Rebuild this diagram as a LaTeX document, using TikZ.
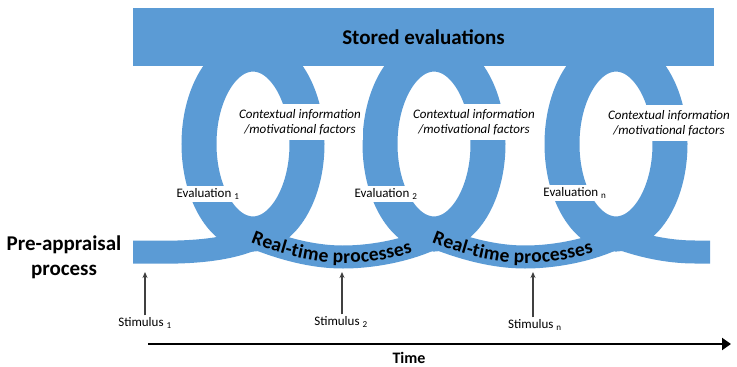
\documentclass[tikz,border=0pt]{standalone}
\usepackage{fontspec}
\setmainfont{Carlito}
\usetikzlibrary{arrows.meta,decorations.text}
\definecolor{loopblue}{HTML}{5B9BD5}
\begin{document}
\begin{tikzpicture}[x=1pt, y=-1pt, >={Stealth[length=6pt,width=5pt]},
    ring/.style={draw=loopblue, line width=35pt},
    band/.style={draw=loopblue, line width=23pt},
    ctxbox/.style={fill=white, align=center, inner xsep=2pt, inner ysep=5pt,
        font=\itshape\fontsize{13}{15}\selectfont},
    evalbox/.style={fill=white, inner sep=2.5pt, font=\fontsize{13}{15}\selectfont},
    stimtext/.style={inner sep=2pt, font=\fontsize{13}{15}\selectfont},
    stimarrow/.style={->, draw=black!75, line width=1.2pt},
    realtime/.style={decorate, decoration={text along path, raise=-6pt,
        text align={left indent=15pt},
        text={|\bfseries\fontsize{19.5}{19.5}\selectfont|Real-time processes}}}]
  \useasboundingbox (0,0) rectangle (737,367);
  \foreach \cx in {253,434,616}
    \draw[ring] (\cx,144) ellipse [x radius=54, y radius=90];
  \draw[band] (133,252) -- (150,252) .. controls (230,254) and (275,240) .. (294,202);
  \draw[band] (239,231) .. controls (273,246) and (308,257) .. (343,257)
      .. controls (390,257) and (456,240) .. (475,202);
  \draw[band] (420,231) .. controls (454,246) and (490,257) .. (525,257)
      .. controls (572,257) and (638,240) .. (657,202);
  \draw[band] (602,231) .. controls (636,246) and (668,252) .. (695,252) -- (710,252);
  \node[fill=loopblue, minimum width=581pt, minimum height=58pt, inner sep=0pt,
      font=\bfseries\fontsize{21}{21}\selectfont] (stored) at (423.5,37) {Stored evaluations};
  \path[realtime] (239,231) .. controls (273,246) and (308,257) .. (343,257)
      .. controls (390,257) and (456,240) .. (475,202);
  \path[realtime] (420,231) .. controls (454,246) and (490,257) .. (525,257)
      .. controls (572,257) and (638,240) .. (657,202);
  \node[ctxbox] (ctx1) at (300,122) {Contextual information\\/motivational factors};
  \node[ctxbox] (ctx2) at (474,122) {Contextual information\\/motivational factors};
  \node[ctxbox] (ctxn) at (669,123) {Contextual information\\/motivational factors};
  \node[evalbox] (eval1) at (208,194) {Evaluation \textsubscript{1}};
  \node[evalbox] (eval2) at (386,194) {Evaluation \textsubscript{2}};
  \node[evalbox] (evaln) at (575,193) {Evaluation \textsubscript{n}};
  \node[align=center, font=\bfseries\fontsize{21}{25}\selectfont] (pre) at (64,257)
      {Pre-appraisal\\process};
  \node[stimtext] (stim1) at (145,323) {Stimulus \textsubscript{1}};
  \node[stimtext] (stim2) at (341,322) {Stimulus \textsubscript{2}};
  \node[stimtext] (stimn) at (535,325) {Stimulus \textsubscript{n}};
  \coordinate (tip1) at (145,272);
  \coordinate (tip2) at (342,272);
  \coordinate (tipn) at (533,272);
  \draw[stimarrow] (tip1 |- stim1.north) -- (tip1);
  \draw[stimarrow] (tip2 |- stim2.north) -- (tip2);
  \draw[stimarrow] (tipn |- stimn.north) -- (tipn);
  \coordinate (tstart) at (148,344);
  \coordinate (tend) at (731,344);
  \draw[line width=2pt, -{Triangle[length=9pt,width=12pt]}] (tstart) -- (tend);
  \node[inner sep=1pt, font=\bfseries\fontsize{16}{16}\selectfont] (time) at (409,358) {Time};
\end{tikzpicture}
\end{document}
